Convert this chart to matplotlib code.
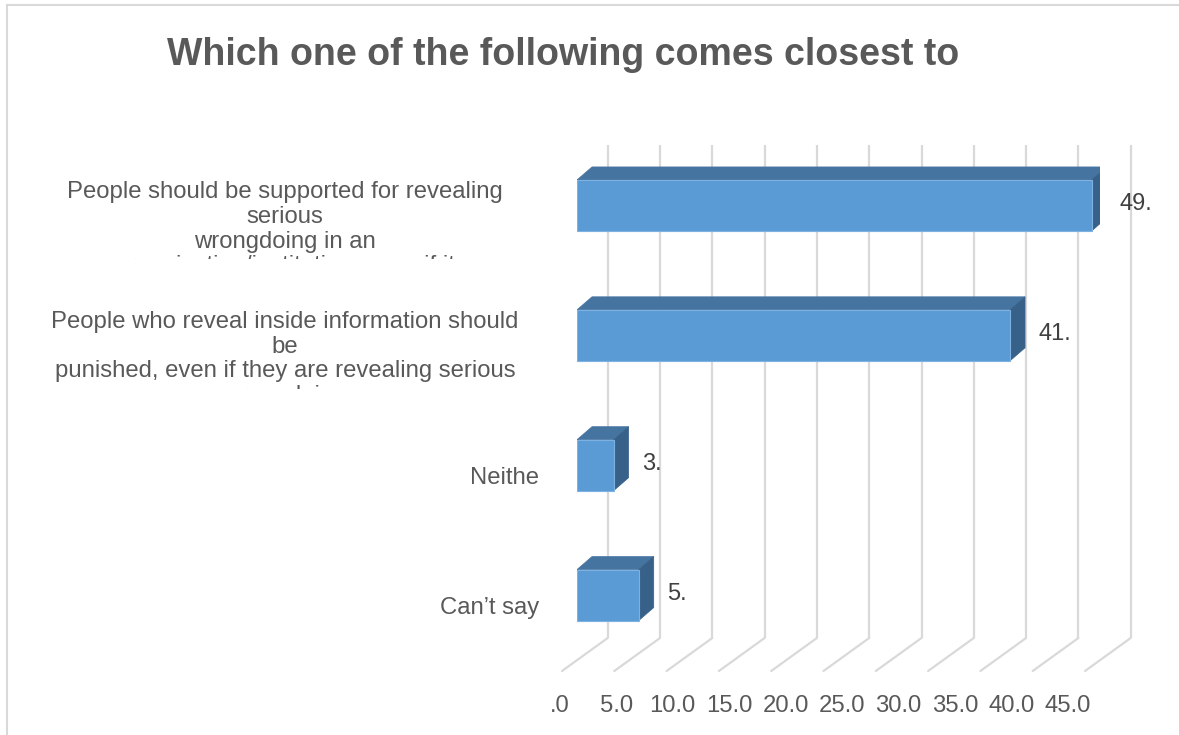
import matplotlib
matplotlib.use("Agg")
import matplotlib.pyplot as plt
import matplotlib.transforms as mtransforms
from matplotlib.patches import Polygon
from matplotlib.lines import Line2D

plt.rcParams['font.family'] = ['Liberation Sans', 'DejaVu Sans']

title = "Which one of the following comes closest to"
categories = [
    "People should be supported for revealing\nserious\nwrongdoing in an\norganisation/institution, even if it",
    "People who reveal inside information should\nbe\npunished, even if they are revealing serious\nwrongdoing",
    "Neithe",
    "Can\u2019t say",
]
values = [49.2, 41.4, 3.5, 5.9]
ticks = [0, 5, 10, 15, 20, 25, 30, 35, 40, 45]
tick_labels = [".0", "5.0", "10.0", "15.0", "20.0", "25.0", "30.0", "35.0", "40.0", "45.0"]
grid_values = list(range(0, 55, 5))

FRONT = "#5b9bd5"
TOP = "#4674a1"
SIDE = "#386189"
EDGE = "#7db1e2"
GRID = "#d9d9d9"
TEXT = "#595959"

W, H, DPI = 1179, 735, 100
fig = plt.figure(figsize=(W / DPI, H / DPI), dpi=DPI)

# plane of the bar fronts: x=0 at 577 px, 50 at 1100 px; category slots 140..660 px
ax = fig.add_axes([577 / W, 1 - 660 / H, 523 / W, 519.5 / H])
ax.set_xlim(0, 50)
ax.set_ylim(3.5, -0.5)
ax.axis('off')

sx = 50 / 523      # data units per pixel
sy = 4 / 519.5

# back wall and floor offsets (pixels)
back_dx, back_dy = 30.7, 22
front_dx, front_dy = -15, 11
wall_top = -0.5 + 4.5 * sy
floor = 3.5

for g in grid_values:
    xb = g + back_dx * sx
    xf = g + front_dx * sx
    yb = floor - back_dy * sy
    yf = floor + front_dy * sy
    ax.plot([xb, xb], [wall_top, yb], color=GRID, lw=1.6, clip_on=False,
            solid_capstyle='butt', zorder=1)
    ax.plot([xb, xf], [yb, yf], color=GRID, lw=1.6, clip_on=False,
            solid_capstyle='round', zorder=1)

# bars with a little depth
bar_h = 51 * sy
dx, dy = 15 * sx, 13 * sy
ypos = list(range(len(values)))
ax.barh(ypos, values, height=bar_h, color=FRONT, edgecolor=EDGE, lw=0.8, zorder=4)
for y, v in zip(ypos, values):
    top = y - bar_h / 2
    bot = y + bar_h / 2
    ax.add_patch(Polygon([(0, top), (v, top), (v + dx, top - dy), (dx, top - dy)],
                         closed=True, facecolor=TOP, edgecolor=TOP, lw=0.5, zorder=3))
    ax.add_patch(Polygon([(v, top), (v + dx, top - dy), (v + dx, bot - dy), (v, bot)],
                         closed=True, facecolor=SIDE, edgecolor=SIDE, lw=0.5, zorder=3))
    ax.text(v + 28 * sx, y + 4.5 * sy, f"{int(v)}.", ha='left', va='baseline',
            fontsize=17, color="#404040", clip_on=False)

# category labels; long ones are wrapped and cut off at the bottom of their slot
line_step = 24.8
for y, lab in zip(ypos, categories):
    lines = lab.split("\n")
    if len(lines) > 1:
        clip = mtransforms.TransformedBbox(
            mtransforms.Bbox([[-60, y - 65 * sy], [0, y + 53.5 * sy]]), ax.transData)
        for k, line in enumerate(lines):
            t = ax.text((285 - 577) * sx, y + (-7.5 + k * line_step) * sy, line,
                        ha='center', va='baseline', fontsize=17.2, color=TEXT)
            t.set_clip_path(None)
            t.set_clip_box(clip)
            t.set_clip_on(True)
    else:
        ax.text((539 - 577) * sx, y + 19 * sy, lab, ha='right', va='baseline',
                fontsize=17.2, color=TEXT, clip_on=False)

# value axis labels along the front of the floor
for t, lab in zip(ticks, tick_labels):
    ax.text(-17.4 * sx + 1.08 * t, floor + 52.5 * sy, lab, ha='center', va='baseline',
            fontsize=17.2, color=TEXT, clip_on=False)

fig.text(563 / W, 1 - 65 / H, title, ha='center', va='baseline', fontsize=27,
         fontweight='bold', color=TEXT)

# chart frame (left and top edges)
fig.add_artist(Line2D([7 / W, 7 / W], [0, 1 - 5 / H], transform=fig.transFigure,
                      color=GRID, lw=1.5))
fig.add_artist(Line2D([7 / W, 1], [1 - 5 / H, 1 - 5 / H], transform=fig.transFigure,
                      color=GRID, lw=1.5))

fig.savefig("out.png", dpi=DPI)
